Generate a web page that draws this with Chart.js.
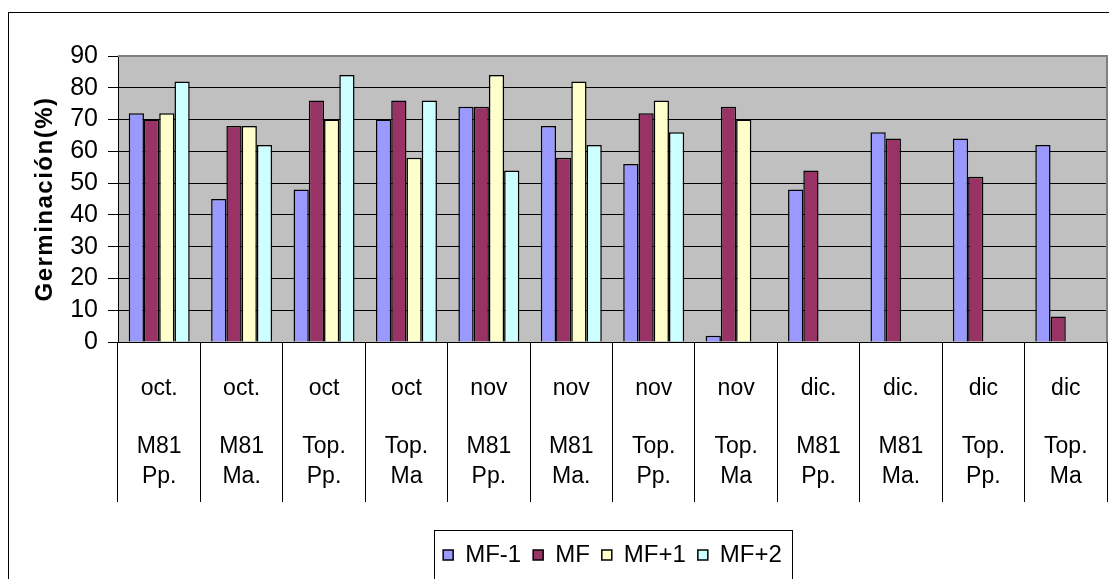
<!DOCTYPE html>
<html>
<head>
<meta charset="utf-8">
<script src="https://cdn.jsdelivr.net/npm/chart.js@4/dist/chart.umd.min.js"></script>
<style>
  html, body { margin: 0; padding: 0; background: #fff; overflow: hidden; }
  #frame { position: absolute; left: 8px; top: 12px; width: 1200px; height: 700px; border: 1px solid #000; box-sizing: border-box; }
  #c { position: absolute; left: 0; top: 0; }
</style>
</head>
<body>
<div id="frame"></div>
<canvas id="c" width="1109" height="579"></canvas>
<script>
// Sowing month (first label row) and material / origin (second row) per group
const months = ['oct.', 'oct.', 'oct', 'oct', 'nov', 'nov', 'nov', 'nov', 'dic.', 'dic.', 'dic', 'dic'];
const lots = [
  ['M81', 'Pp.'], ['M81', 'Ma.'], ['Top.', 'Pp.'], ['Top.', 'Ma'],
  ['M81', 'Pp.'], ['M81', 'Ma.'], ['Top.', 'Pp.'], ['Top.', 'Ma'],
  ['M81', 'Pp.'], ['M81', 'Ma.'], ['Top.', 'Pp.'], ['Top.', 'Ma']
];

// Germination (%) per maturity stage
const seriesNames = ['MF-1', 'MF', 'MF+1', 'MF+2'];
const mfMinus1 = [72, 45, 48, 70, 74, 68, 56, 2, 48, 66, 64, 62];
const mf       = [70, 68, 76, 76, 74, 58, 72, 74, 54, 64, 52, 8];
const mfPlus1  = [72, 68, 70, 58, 84, 82, 76, 70, null, null, null, null];
const mfPlus2  = [82, 62, 84, 76, 54, 62, 66, null, null, null, null, null];
const seriesColors = ['#9999ff', '#993366', '#ffffcc', '#ccffff'];

const yMin = 0, yMax = 90, yStep = 10;

Chart.defaults.font.family = "'Liberation Sans', Arial, sans-serif";
Chart.defaults.color = '#000';

// Grey plot background, grey top/right edge and a frame round the legend
const plotFrame = {
  id: 'plotFrame',
  beforeDraw(chart) {
    const { ctx, chartArea: a } = chart;
    const y = chart.scales.y;
    if (y && !y._spaced) {
      const orig = y.drawTitle;
      y.drawTitle = function () {
        this.ctx.save();
        this.ctx.letterSpacing = '1.5px';
        orig.call(this);
        this.ctx.restore();
      };
      y._spaced = true;
    }
    ctx.save();
    ctx.fillStyle = '#c0c0c0';
    ctx.fillRect(a.left, a.top, a.right - a.left, a.bottom - a.top);
    ctx.restore();
  },
  afterDraw(chart) {
    const { ctx, chartArea: a } = chart;
    ctx.save();
    ctx.strokeStyle = '#808080';
    ctx.lineWidth = 2;
    ctx.beginPath();
    ctx.moveTo(a.left, a.top);
    ctx.lineTo(a.right, a.top);
    ctx.lineTo(a.right, a.bottom);
    ctx.stroke();

    const hb = chart.legend.legendHitBoxes;
    if (hb && hb.length) {
      const first = hb[0], last = hb[hb.length - 1];
      const cy = first.top + first.height / 2;
      const x0 = Math.round(first.left - 9) + 0.5;
      const x1 = Math.round(last.left + last.width + 10) + 0.5;
      const y0 = Math.round(cy - 25) + 0.5;
      ctx.strokeStyle = '#000';
      ctx.lineWidth = 1;
      ctx.strokeRect(x0, y0, x1 - x0, 50);
    }
    ctx.restore();
  }
};

const datasets = [mfMinus1, mf, mfPlus1, mfPlus2].map((values, i) => ({
  label: seriesNames[i],
  data: values,
  backgroundColor: seriesColors[i],
  borderColor: '#000',
  borderWidth: 1.5
}));

new Chart(document.getElementById('c'), {
  type: 'bar',
  data: { labels: months, datasets },
  options: {
    responsive: false,
    animation: false,
    devicePixelRatio: 1,
    layout: { padding: { left: 0, top: 56, right: 2, bottom: 2 } },
    datasets: { bar: { categoryPercentage: 0.74, barPercentage: 1 } },
    plugins: {
      legend: {
        position: 'bottom',
        fullSize: false,
        labels: { boxWidth: 10, boxHeight: 10, padding: 12, font: { size: 24 }, color: '#000' }
      },
      tooltip: { enabled: false }
    },
    scales: {
      x: {
        type: 'category',
        offset: true,
        weight: 0,
        grid: { offset: true, drawOnChartArea: false, tickLength: 80, color: '#000', lineWidth: 1 },
        border: { color: '#000', width: 1 },
        ticks: { font: { size: 23 }, color: '#000', padding: -47, maxRotation: 0, minRotation: 0, autoSkip: false },
        afterFit(s) { s.height = 80; }
      },
      x2: {
        type: 'category',
        position: 'bottom',
        labels: lots,
        offset: true,
        weight: 1,
        grid: { offset: true, drawOnChartArea: false, tickLength: 80, color: '#000', lineWidth: 1 },
        border: { display: false },
        ticks: { font: { size: 23, lineHeight: 30 / 23 }, color: '#000', padding: -70, maxRotation: 0, minRotation: 0, autoSkip: false },
        afterFit(s) { s.height = 109; }
      },
      y: {
        min: yMin,
        max: yMax,
        ticks: { stepSize: yStep, maxTicksLimit: 20, autoSkip: false, font: { size: 25, lineHeight: 1 }, padding: 10, color: '#000' },
        grid: { color: '#000', lineWidth: 1, tickLength: 10 },
        border: { color: '#000', width: 1 },
        title: {
          display: true,
          text: 'Germinación(%)',
          color: '#000',
          font: { size: 24, weight: 'bold' },
          padding: { top: 31, bottom: 0 }
        },
        afterFit(s) { s.width = 118; }
      }
    }
  },
  plugins: [plotFrame]
});
</script>
</body>
</html>
